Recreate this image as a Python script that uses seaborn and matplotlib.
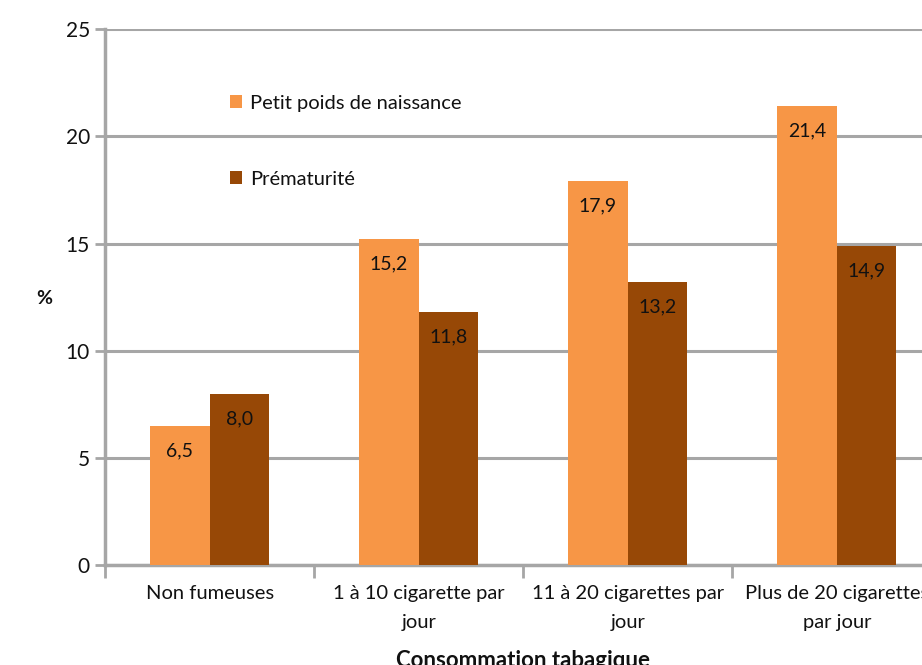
import matplotlib

matplotlib.use("Agg")
import matplotlib.pyplot as plt
import pandas as pd
import seaborn as sns

categories = [
    "Non fumeuses",
    "1 à 10 cigarette par\njour",
    "11 à 20 cigarettes par\njour",
    "Plus de 20 cigarettes\npar jour",
]
series_names = ["Petit poids de naissance", "Prématurité"]
petit_poids = [6.5, 15.2, 17.9, 21.4]
prematurite = [8.0, 11.8, 13.2, 14.9]
y_ticks = [0, 5, 10, 15, 20, 25]

df = pd.DataFrame(
    {
        "categorie": categories * 2,
        "serie": [series_names[0]] * 4 + [series_names[1]] * 4,
        "valeur": petit_poids + prematurite,
    }
)

sns.set_theme(style="white")
plt.rcParams["font.family"] = ["Lato", "DejaVu Sans"]

grid_col = "#A6A6A6"
txt_col = "#111111"
fig = plt.figure(figsize=(9.22, 6.65), dpi=100)
ax = fig.add_axes([0.114, 0.150, 0.907, 0.806])

sns.barplot(
    ax=ax,
    data=df,
    x="categorie",
    y="valeur",
    hue="serie",
    palette=["#F79646", "#974806"],
    width=0.57,
    saturation=1,
    edgecolor="none",
    zorder=3,
)

for cont in ax.containers:
    ax.bar_label(
        cont,
        labels=[f"{v:.1f}".replace(".", ",") for v in cont.datavalues],
        padding=-24,
        fontsize=14,
        color=txt_col,
    )

ax.set_ylim(0, 25)
ax.set_xlim(-0.5, 3.5)
ax.set_yticks(y_ticks)
ax.yaxis.grid(True, color=grid_col, linewidth=2.2, zorder=0)
ax.set_axisbelow(True)

for side in ("top", "right"):
    ax.spines[side].set_visible(False)
for side in ("left", "bottom"):
    ax.spines[side].set_color(grid_col)
    ax.spines[side].set_linewidth(2.5)

ax.tick_params(axis="y", length=7, width=2, color=grid_col, direction="out",
               labelsize=15, pad=4, left=True, labelcolor=txt_col)
ax.set_xticks(range(len(categories)), labels=categories, linespacing=1.85)
ax.tick_params(axis="x", which="major", length=0, labelsize=14.5, pad=14,
               labelcolor=txt_col)
ax.set_xticks([-0.5, 0.5, 1.5, 2.5, 3.5], minor=True)
ax.tick_params(axis="x", which="minor", length=9, width=2, color=grid_col,
               direction="out", bottom=True)

ax.set_ylabel("%", rotation=0, fontsize=14, fontweight="bold", va="center",
              color=txt_col)
ax.yaxis.set_label_coords(-0.073, 0.497)
ax.set_xlabel("Consommation tabagique", fontsize=16, fontweight="bold",
              color=txt_col)
ax.xaxis.set_label_coords(0.5, -0.158)

ax.legend(
    loc="upper left",
    bbox_to_anchor=(0.128, 0.912),
    frameon=False,
    handlelength=0.6,
    handleheight=0.6,
    handletextpad=0.4,
    labelspacing=2.95,
    fontsize=14.5,
    title=None,
    labelcolor=txt_col,
)

fig.savefig("out.png", dpi=100)
